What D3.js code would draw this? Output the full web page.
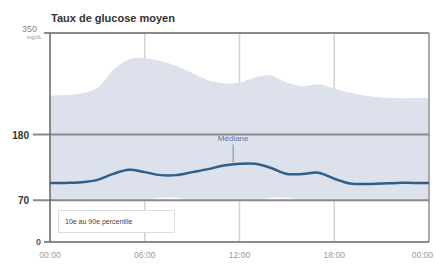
<!DOCTYPE html>
<html><head><meta charset="utf-8">
<script src="https://cdn.jsdelivr.net/npm/d3@7"></script>
<style>body{margin:0;background:#fff}svg{display:block;font-family:"Liberation Sans",Arial,sans-serif}</style>
</head><body><svg id="c" width="436" height="264"></svg>
<script>
const hours = d3.range(0, 25);
const p90 = [245,246,249,258,288,306,308,303,295,283,271,266,267,276,279,267,261,264,257,250,245,242,241,241,241];
const p10 = [70,70,70,70,70,70,70,74,74,70,70,70,70,70,74,74,70,70,70,70,70,70,70,70,70];
const median = [99,99,100,104,114,121,117,112,112,117,122,128,131,131,124,114,114,116,106,98,97,98,99,99,99];
const xTickHours = [0,6,12,18,24];
const xTickLabels = ["00:00","06:00","12:00","18:00","00:00"];
const yTargets = [70,180];
const yMax = 350;
const medianLabelHour = 11.6;
const title = "Taux de glucose moyen";
const legendText = "10e au 90e percentile";
const medianText = "Médiane";

const svg = d3.select("#c");
const L = 50, R = 429, T = 33, B = 242;
const x = d3.scaleLinear().domain([0,24]).range([L,R]);
const y = d3.scaleLinear().domain([0,yMax]).range([B,T]);

// vertical grid
svg.selectAll(".vg").data(xTickHours.slice(1,4)).enter().append("line")
  .attr("x1",d=>x(d)).attr("x2",d=>x(d)).attr("y1",T).attr("y2",B)
  .attr("stroke","#d2d2d2").attr("stroke-width",1.5);

// band
const area = d3.area().x((d,i)=>x(hours[i])).y0((d,i)=>y(p10[i])).y1((d,i)=>y(p90[i])).curve(d3.curveCatmullRom);
svg.append("path").datum(p90).attr("d",area).attr("fill","#dde1ec");

// right border
svg.append("line").attr("x1",R).attr("x2",R).attr("y1",T).attr("y2",B).attr("stroke","#aaa").attr("stroke-width",2);
// top line
svg.append("line").attr("x1",L-6).attr("x2",R).attr("y1",y(yMax)).attr("y2",y(yMax)).attr("stroke","#8a8a8a").attr("stroke-width",2);
// target lines
svg.selectAll(".tl").data(yTargets).enter().append("line")
  .attr("x1",33).attr("x2",R).attr("y1",d=>y(d)).attr("y2",d=>y(d))
  .attr("stroke","#8a8a8a").attr("stroke-width",2);
// bottom axis
svg.append("line").attr("x1",L-6).attr("x2",R).attr("y1",B).attr("y2",B).attr("stroke","#666").attr("stroke-width",1.5);
// left axis
svg.append("line").attr("x1",L).attr("x2",L).attr("y1",T).attr("y2",B).attr("stroke","#666").attr("stroke-width",1.5);

// median line
const line = d3.line().x((d,i)=>x(hours[i])).y(d=>y(d)).curve(d3.curveCatmullRom);
svg.append("path").datum(median).attr("d",line).attr("fill","none").attr("stroke","#2f5f8a").attr("stroke-width",2.5);

// median label
const mi = d3.scaleLinear().domain(hours).range(median)(medianLabelHour);
svg.append("line").attr("x1",x(medianLabelHour)).attr("x2",x(medianLabelHour)).attr("y1",y(180)+10).attr("y2",y(mi)-2)
  .attr("stroke","#6f8fb5").attr("stroke-width",1);
svg.append("text").attr("x",x(medianLabelHour)).attr("y",y(180)+6).attr("text-anchor","middle")
  .attr("font-size",8).attr("fill","#5578a8").text(medianText);

// y labels
svg.append("text").attr("x",37).attr("y",y(yMax)-1).attr("text-anchor","end").attr("font-size",9).attr("fill","#888").text(yMax);
svg.append("text").attr("x",42).attr("y",y(yMax)+6).attr("text-anchor","end").attr("font-size",5.5).attr("fill","#999").text("mg/dL");
svg.selectAll(".yl").data(yTargets).enter().append("text")
  .attr("x",29).attr("y",d=>y(d)+4).attr("text-anchor","end").attr("font-size",10).attr("font-weight","bold").attr("fill","#333").text(d=>d);
svg.append("text").attr("x",41).attr("y",y(0)+3).attr("text-anchor","end").attr("font-size",9).attr("font-weight","bold").attr("fill","#555").text(0);

// x labels
svg.selectAll(".xl").data(xTickHours).enter().append("text")
  .attr("x",(d,i)=> i===xTickHours.length-1 ? x(d)+4 : x(d))
  .attr("y",258).attr("text-anchor",(d,i)=> i===xTickHours.length-1 ? "end" : "middle")
  .attr("font-size",8.5).attr("fill","#9a9a9a").text((d,i)=>xTickLabels[i]);

// title
svg.append("text").attr("x",L+1).attr("y",22).attr("font-size",11).attr("font-weight","bold").attr("fill","#333").text(title);

// legend
svg.append("rect").attr("x",58.5).attr("y",210.5).attr("width",116).attr("height",22).attr("fill","#fff").attr("stroke","#ddd");
svg.append("text").attr("x",65).attr("y",224).attr("font-size",7).attr("fill","#444").text(legendText);
</script>
</body></html>
